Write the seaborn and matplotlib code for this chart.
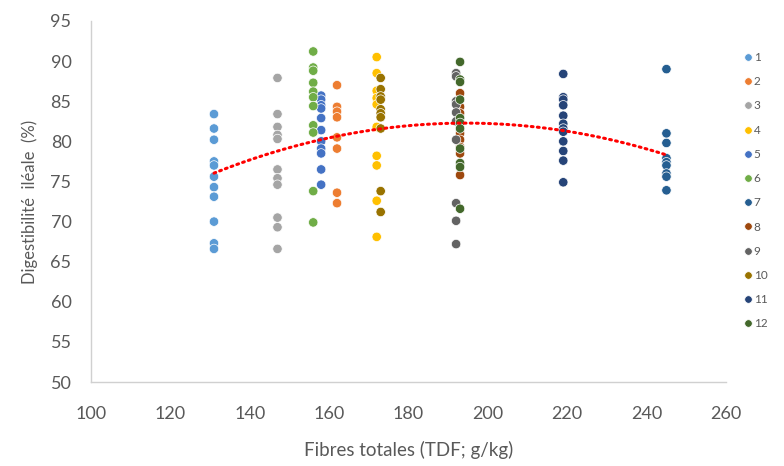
import numpy as np
import pandas as pd
import matplotlib
matplotlib.use('Agg')
import matplotlib.pyplot as plt
import seaborn as sns

# Teneur en fibres (TDF, g/kg) de chaque lot
fibres_lots = [131, 162, 147, 172, 158, 156, 245, 193, 192, 173, 219, 193]
noms_lots = ['1', '2', '3', '4', '5', '6', '7', '8', '9', '10', '11', '12']

# Digestibilité iléale (%) mesurée pour chaque lot
dig_1 = [83.4, 81.6, 80.2, 77.5, 77.0, 75.6, 74.3, 73.1, 70.0, 67.3, 66.6]
dig_2 = [87.0, 84.3, 83.7, 83.0, 80.5, 79.1, 73.6, 72.3]
dig_3 = [87.9, 83.4, 81.8, 80.8, 80.3, 76.5, 75.4, 74.6, 70.5, 69.3, 66.6]
dig_4 = [90.5, 88.5, 86.3, 85.4, 84.6, 81.8, 78.2, 77.0, 72.6, 68.1]
dig_5 = [85.7, 85.2, 84.5, 84.1, 82.9, 81.4, 80.0, 79.1, 78.5, 76.5, 74.6]
dig_6 = [91.2, 89.2, 88.8, 87.3, 86.2, 85.5, 84.4, 82.0, 81.1, 73.8, 69.9]
dig_7 = [89.0, 81.0, 79.8, 77.9, 77.4, 77.0, 76.0, 75.6, 73.9]
dig_8 = [86.0, 84.3, 83.5, 81.0, 80.2, 79.3, 78.5, 75.8]
dig_9 = [88.5, 88.1, 85.0, 84.6, 83.6, 82.5, 80.2, 72.3, 70.1, 67.2]
dig_10 = [87.9, 86.5, 85.6, 85.2, 84.0, 83.5, 83.0, 81.6, 73.8, 71.2]
dig_11 = [88.4, 85.5, 85.2, 84.5, 83.2, 82.2, 81.6, 81.2, 80.0, 78.8, 77.6, 74.9]
dig_12 = [89.9, 87.7, 87.4, 85.2, 82.9, 82.3, 81.6, 79.1, 77.3, 76.8, 71.6]

digestibilites = [dig_1, dig_2, dig_3, dig_4, dig_5, dig_6,
                  dig_7, dig_8, dig_9, dig_10, dig_11, dig_12]

couleurs = ['#5B9BD5', '#ED7D31', '#A5A5A5', '#FFC000', '#4472C4', '#70AD47',
            '#255E91', '#9E480E', '#636363', '#997300', '#264478', '#43682B']

lignes = []
for nom, tdf, valeurs in zip(noms_lots, fibres_lots, digestibilites):
    for v in valeurs:
        lignes.append({'lot': nom, 'tdf': tdf, 'dig': v})
df = pd.DataFrame(lignes)

sns.set_theme(style="white")
plt.rcParams['font.family'] = ['Lato', 'DejaVu Sans']
gris = '#595959'

fig = plt.figure(figsize=(7.84, 4.66), dpi=100)
ax = fig.add_axes([0.116, 0.180, 0.810, 0.775])

sns.scatterplot(data=df, x='tdf', y='dig', hue='lot', hue_order=noms_lots,
                palette=couleurs, s=46, edgecolor='white', linewidth=0.5,
                ax=ax, legend=True, zorder=2)

# courbe de tendance polynomiale (ordre 2)
sns.regplot(data=df, x='tdf', y='dig', order=2, scatter=False, ci=None,
            ax=ax, truncate=True,
            line_kws=dict(color='#FF0000', lw=2.2, ls=(0, (0.6, 1.4)),
                          dash_capstyle='round', zorder=3))

ax.set_xlim(100, 260)
ax.set_ylim(50, 95)
ax.set_xticks(np.arange(100, 261, 20))
ax.set_yticks(np.arange(50, 96, 5))

for side in ['top', 'right']:
    ax.spines[side].set_visible(False)
for side in ['left', 'bottom']:
    ax.spines[side].set_color('#D0D0D0')
    ax.spines[side].set_linewidth(1.0)

ax.tick_params(axis='both', direction='inout', length=10, width=1.0,
               color='#D0D0D0', labelcolor=gris, labelsize=13)
ax.tick_params(axis='y', pad=9)
ax.tick_params(axis='x', pad=12)

ax.set_xlabel('Fibres totales (TDF; g/kg)', fontsize=13.5, color=gris, labelpad=14)
ax.set_ylabel('Digestibilité  iléale  (%)', fontsize=12, color=gris, labelpad=9)

ax.text(610, 62.0, 'y = -0,0015x$^2$ + 0,5677x + 27,223\nR$^2$ = 0,0969',
        ha='center', va='center', fontsize=10, color=gris, linespacing=1.25)

handles, labels = ax.get_legend_handles_labels()
leg = ax.legend(handles[:12], labels[:12], loc='upper left',
                bbox_to_anchor=(0.950, 1 - 52 / 466),
                bbox_transform=fig.transFigure, frameon=False,
                fontsize=8.5, labelspacing=1.12, handlelength=0.5,
                handletextpad=0.25, borderaxespad=0, borderpad=0,
                markerscale=0.8)
for t in leg.get_texts():
    t.set_color(gris)

fig.savefig('out.png', dpi=100)
